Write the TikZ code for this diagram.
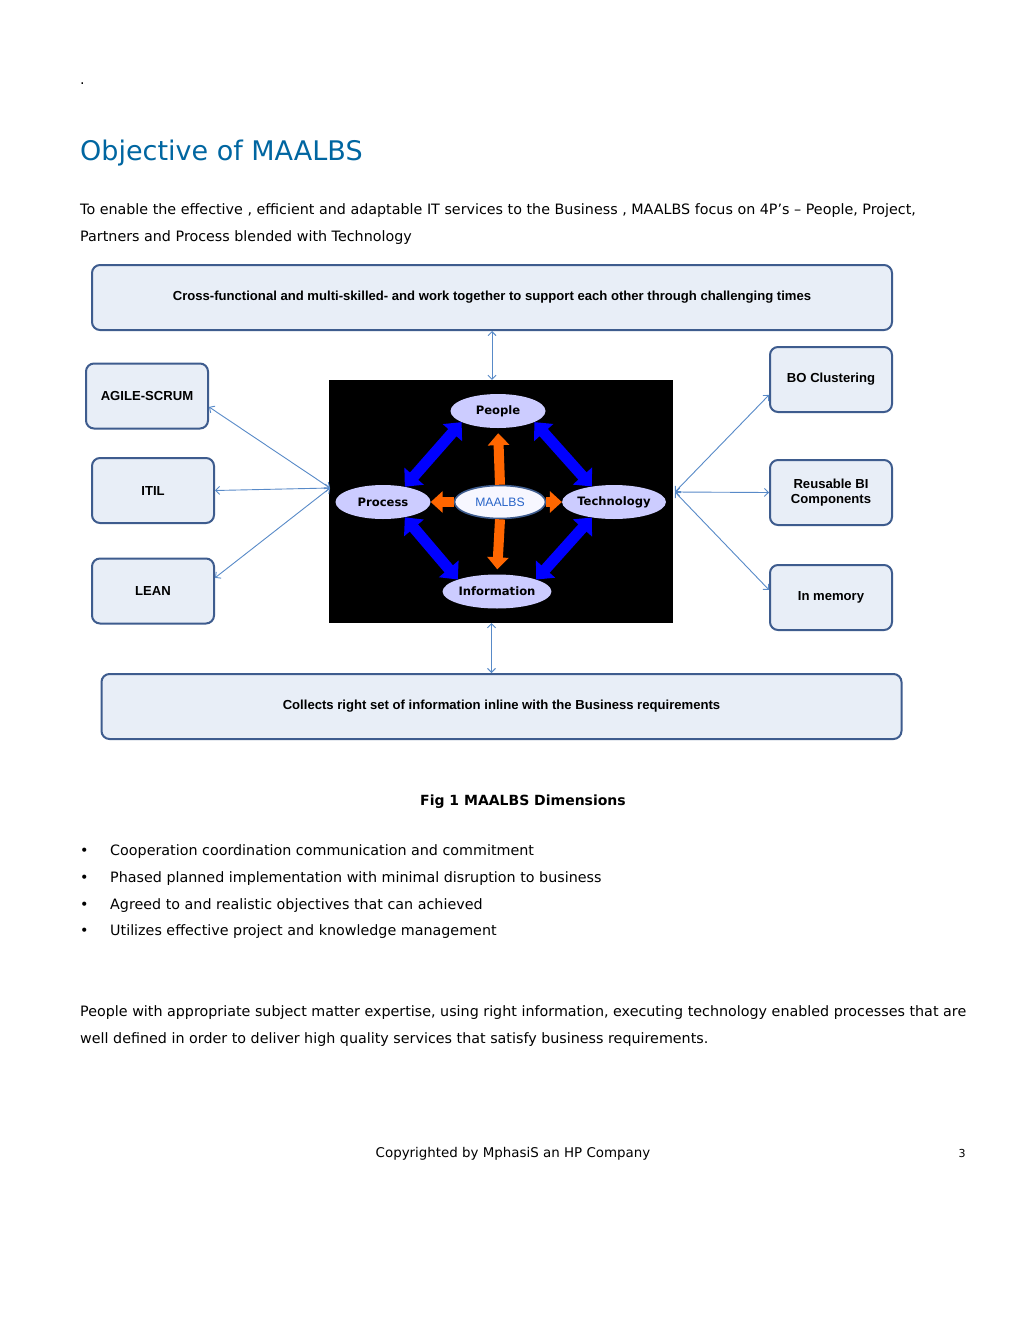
\documentclass[tikz,border=0pt]{standalone}
\usepackage{fontspec}
\setmainfont{DejaVu Sans}
\newfontfamily\arialfont{Liberation Sans}
\usepackage{tikz}
\usetikzlibrary{shapes.geometric,arrows.meta,positioning,calc}
\usepackage{xcolor}

\definecolor{titleblue}{RGB}{0,102,161}
\definecolor{boxfill}{RGB}{232,238,247}
\definecolor{boxline}{RGB}{62,92,142}
\definecolor{linkblue}{RGB}{88,138,200}
\definecolor{fatblue}{RGB}{0,0,255}
\definecolor{fatorange}{RGB}{255,102,0}
\definecolor{ovalfill}{RGB}{204,204,255}
\definecolor{hubblue}{RGB}{40,100,200}

\tikzset{
  dimbox/.style={draw=boxline, fill=boxfill, line width=2pt, rounded corners=8pt,
    inner sep=0pt, align=center,
    font=\arialfont\bfseries\fontsize{13.1}{15}\selectfont},
  wide/.style={dimbox, minimum width=800pt, minimum height=65pt},
  side/.style={dimbox, minimum width=122pt, minimum height=65pt},
  oval/.style={ellipse, fill=ovalfill, minimum width=95pt, minimum height=34pt,
    inner sep=0pt, font=\bfseries\fontsize{11.6}{13}\selectfont},
  link/.style={draw=linkblue, line width=0.9pt,
    {Straight Barb[length=4pt,width=8pt]}-{Straight Barb[length=4pt,width=8pt]}},
  bluearrow/.style={draw=fatblue, line width=11pt,
    {Triangle[length=14pt,width=25pt]}-{Triangle[length=14pt,width=25pt]}},
  orangearrow/.style={draw=fatorange, line width=10pt, -{Triangle[length=12pt,width=21pt]}},
  body/.style={anchor=base west, inner sep=0pt, font=\fontsize{14.3}{17}\selectfont}
}

\begin{document}
\begin{tikzpicture}[x=1pt, y=-1pt]
  \useasboundingbox (0,0) rectangle (1024,1325);
  \fill[white] (0,0) rectangle (1024,1325);

  % Heading and intro
  \node[body] (dot) at (80,84) {.};
  \node[anchor=base west, inner sep=0pt, text=titleblue,
        font=\fontsize{27}{31}\selectfont] (title) at (80,160) {Objective of MAALBS};
  \node[body] (introa) at (80,214) {To enable the effective , efficient and adaptable IT services to the Business , MAALBS focus on 4P’s – People, Project,};
  \node[body] (introb) at (80,241) {Partners and Process blended with Technology};

  % Top and bottom boxes
  \node[wide] (team) at (492,297.5) {Cross-functional and multi-skilled- and work together to support each other through challenging times};
  \node[wide] (collect) at (501.5,706.5) {Collects right set of information inline with the Business requirements};

  % Left boxes
  \node[side] (agile) at (147,396) {AGILE-SCRUM};
  \node[side] (itil) at (153,490.5) {ITIL};
  \node[side] (lean) at (153,591) {LEAN};

  % Right boxes
  \node[side] (bo) at (831,379.5) {BO Clustering};
  \node[side] (reuse) at (831,492.5) {Reusable BI\\Components};
  \node[side] (memory) at (831,597.5) {In memory};

  % Black core with the four dimensions
  \node[fill=black, minimum width=344pt, minimum height=243pt, inner sep=0pt] (core) at (501,501.5) {};
  \node[oval] (people) at (498,411) {People};
  \node[oval] (process) at (383,502) {Process};
  \node[oval] (technology) at (614,502) {Technology};
  \node[oval] (information) at (497,591.5) {Information};
  \node[ellipse, draw=boxline, line width=1.6pt, fill=white!85!ovalfill,
        minimum width=91pt, minimum height=33pt, inner sep=0pt, text=hubblue,
        font=\arialfont\fontsize{12.2}{14}\selectfont] (maalbs) at (500,502) {MAALBS};

  % Blue arrows round the ring
  \draw[bluearrow] (people.197) -- (process.35);
  \draw[bluearrow] (people.-17) -- (technology.145);
  \draw[bluearrow] (process.-35) -- (information.163);
  \draw[bluearrow] (technology.-145) -- (information.17);

  % Orange arrows out of the hub
  \draw[orangearrow, shorten >=5pt] (maalbs.north) -- (people.south);
  \draw[orangearrow] (maalbs.west) -- (process.east);
  \draw[orangearrow] (maalbs.east) -- (technology.west);
  \draw[orangearrow, shorten >=5pt] (maalbs.south) -- (information.north);

  % Thin links
  \coordinate (lhub) at (330,488);
  \coordinate (rhub) at (675,492);
  \draw[link] (team.south) -- (team.south |- core.north);
  \draw[link] ([xshift=-10pt]collect.north |- core.south) -- ([xshift=-10pt]collect.north);
  \draw[link] (lhub) -- (agile.-10);
  \draw[link] (lhub) -- (itil.east);
  \draw[link] (lhub) -- (lean.12);
  \draw[link] (rhub) -- (bo.194);
  \draw[link] (rhub) -- (reuse.west);
  \draw[link] (rhub) -- (memory.173);

  % Caption
  \node[anchor=base, inner sep=0pt, font=\bfseries\fontsize{14}{17}\selectfont] (caption) at (523,805) {Fig 1 MAALBS Dimensions};

  % Bullets
  \foreach \txt [count=\i] in {Cooperation coordination communication and commitment,
      Phased planned implementation with minimal disruption to business,
      Agreed to and realistic objectives that can achieved,
      Utilizes effective project and knowledge management} {
    \node[body] (mark\i) at (80,829+26.7*\i) {•};
    \node[body] (item\i) at (110,829+26.7*\i) {\txt};
  }

  % Closing paragraph
  \node[body] (closea) at (80,1016) {People with appropriate subject matter expertise, using right information, executing technology enabled processes that are};
  \node[body] (closeb) at (80,1043) {well defined in order to deliver high quality services that satisfy business requirements.};

  % Footer
  \node[anchor=base, inner sep=0pt, font=\fontsize{13.4}{16}\selectfont] (footer) at (513,1157) {Copyrighted by MphasiS an HP Company};
  \node[anchor=base, inner sep=0pt, font=\fontsize{11}{13}\selectfont] (page) at (962,1157) {3};
\end{tikzpicture}
\end{document}
